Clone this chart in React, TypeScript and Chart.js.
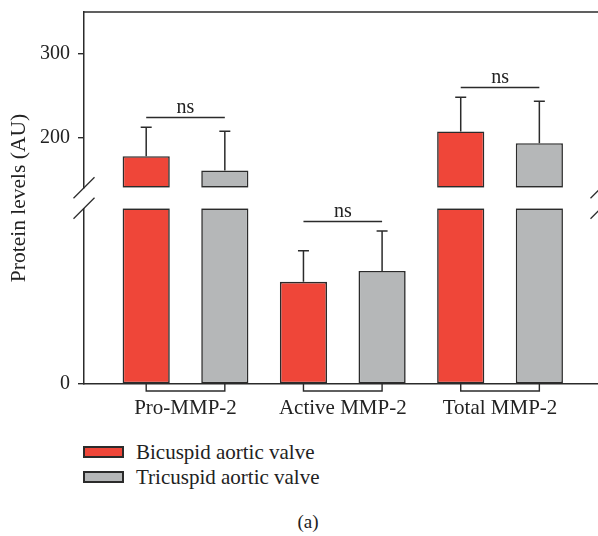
import React, { useEffect, useRef } from 'react';
import { Chart, registerables } from 'chart.js';

Chart.register(...registerables);

const categories = ['Pro-MMP-2', 'Active MMP-2', 'Total MMP-2'];
const seriesNames = ['Bicuspid aortic valve', 'Tricuspid aortic valve'];
const bicuspidMeans = [177.7, 81.4, 207.2];
const bicuspidErrorTops = [212.3, 106.1, 248.1];
const tricuspidMeans = [160.6, 90.1, 193.2];
const tricuspidErrorTops = [207.5, 122.0, 243.4];
const nsLevels = [224, 130, 260];
const nsLabels = ['ns', 'ns', 'ns'];
const lowerRange = [0, 140];
const upperRange = [140, 350];
const lowerTicks = [0];
const upperTicks = [200, 300];

const RED = 'rgb(239,70,57)';
const GRAY = 'rgb(181,183,184)';
const EDGE = '#2b2b2b';
const INK = '#222222';
const SERIF = '"Liberation Serif", "Times New Roman", serif';

const CANVAS_W = 620;
const CANVAS_H = 430;

function upperBar(v: number) {
  return v > lowerRange[1] ? [upperRange[0], v] : null;
}
function lowerBar(v: number) {
  return [lowerRange[0], Math.min(v, lowerRange[1])];
}

function zeroPadding(s: any) {
  s.paddingTop = 0;
  s.paddingBottom = 0;
  s.paddingLeft = 0;
  s.paddingRight = 0;
}

const overlayPlugin = {
  id: 'overlay',
  afterDatasetsDraw(chart: any) {
    const ctx = chart.ctx;
    const yTop = chart.scales.yTop;
    const yBottom = chart.scales.yBottom;
    const pix = (v: number) => (v > lowerRange[1] ? yTop.getPixelForValue(v) : yBottom.getPixelForValue(v));
    const centerX = (seriesIdx: number, i: number) => {
      const meta = chart.getDatasetMeta(seriesIdx + 2);
      return meta.data[i].x;
    };
    ctx.save();
    ctx.strokeStyle = EDGE;
    ctx.lineWidth = 1.5;
    const means = [bicuspidMeans, tricuspidMeans];
    const tops = [bicuspidErrorTops, tricuspidErrorTops];
    for (let s = 0; s < 2; s++) {
      for (let i = 0; i < categories.length; i++) {
        const x = centerX(s, i);
        const y0 = pix(means[s][i]);
        const y1 = pix(tops[s][i]);
        ctx.beginPath();
        ctx.moveTo(x, y0);
        ctx.lineTo(x, y1);
        ctx.moveTo(x - 5.5, y1);
        ctx.lineTo(x + 5.5, y1);
        ctx.stroke();
      }
    }
    ctx.lineWidth = 1.4;
    ctx.fillStyle = INK;
    ctx.font = '20px ' + SERIF;
    ctx.textAlign = 'center';
    ctx.textBaseline = 'alphabetic';
    for (let i = 0; i < categories.length; i++) {
      const xa = centerX(0, i);
      const xb = centerX(1, i);
      const y = Math.round(pix(nsLevels[i])) + 0.5;
      ctx.beginPath();
      ctx.moveTo(xa, y);
      ctx.lineTo(xb, y);
      ctx.stroke();
      ctx.fillText(nsLabels[i], (xa + xb) / 2, y - 5);
    }
    const base = yBottom.getPixelForValue(lowerRange[0]);
    for (let i = 0; i < categories.length; i++) {
      const xa = centerX(0, i);
      const xb = centerX(1, i);
      ctx.beginPath();
      ctx.moveTo(xa, base);
      ctx.lineTo(xa, base + 7);
      ctx.lineTo(xb, base + 7);
      ctx.lineTo(xb, base);
      ctx.stroke();
    }
    ctx.restore();
  },
  afterDraw(chart: any) {
    const ctx = chart.ctx;
    const area = chart.chartArea;
    const yGap = chart.scales.yGap;
    ctx.save();
    ctx.strokeStyle = EDGE;
    ctx.lineWidth = 1.5;
    ctx.beginPath();
    ctx.moveTo(area.left, area.top);
    ctx.lineTo(area.right + 20, area.top);
    ctx.stroke();
    ctx.lineWidth = 1.3;
    for (const x of [area.left, area.right]) {
      for (const y of [yGap.top, yGap.bottom]) {
        ctx.beginPath();
        ctx.moveTo(x - 10.5, y + 10.5);
        ctx.lineTo(x + 10.5, y - 10.5);
        ctx.stroke();
      }
    }
    ctx.fillStyle = INK;
    ctx.font = '21.5px ' + SERIF;
    ctx.textAlign = 'center';
    ctx.textBaseline = 'middle';
    ctx.translate(19, (area.top + area.bottom) / 2);
    ctx.rotate(-Math.PI / 2);
    ctx.fillText('Protein levels (AU)', 0, 0);
    ctx.restore();
  },
};

export default function App() {
  const ref = useRef<HTMLCanvasElement | null>(null);

  useEffect(() => {
    document.body.style.margin = '0';
    const canvas = ref.current;
    if (!canvas) return;
    const yCommon = (min: number, max: number, weight: number, ticks: number[]) => ({
      type: 'linear',
      position: 'left',
      stack: 'ybroken',
      stackWeight: weight,
      stacked: false,
      min,
      max,
      afterBuildTicks: (s: any) => {
        s.ticks = ticks.map((v) => ({ value: v }));
      },
      afterFit: (s: any) => {
        s.width = 84;
        zeroPadding(s);
      },
      grid: { display: true, drawOnChartArea: false, drawTicks: true, tickLength: 6, color: EDGE, lineWidth: 1.4 },
      border: { display: true, color: EDGE, width: 1.5 },
      ticks: { color: INK, font: { family: SERIF, size: 20 }, padding: 8 },
    });
    const chart = new Chart(canvas, {
      type: 'bar',
      data: {
        datasets: [
          {
            label: seriesNames[0],
            data: bicuspidMeans.map((v, i) => ({ x: i, y: upperBar(v) })),
            backgroundColor: RED,
            yAxisID: 'yTop',
            stack: 'bic',
          },
          {
            label: seriesNames[1],
            data: tricuspidMeans.map((v, i) => ({ x: i, y: upperBar(v) })),
            backgroundColor: GRAY,
            yAxisID: 'yTop',
            stack: 'tri',
          },
          {
            label: seriesNames[0],
            data: bicuspidMeans.map((v, i) => ({ x: i, y: lowerBar(v) })),
            backgroundColor: RED,
            yAxisID: 'yBottom',
            stack: 'bic',
          },
          {
            label: seriesNames[1],
            data: tricuspidMeans.map((v, i) => ({ x: i, y: lowerBar(v) })),
            backgroundColor: GRAY,
            yAxisID: 'yBottom',
            stack: 'tri',
          },
        ] as any,
      },
      options: {
        responsive: false,
        animation: false,
        devicePixelRatio: 1,
        layout: { padding: { top: 12, left: 0, right: CANVAS_W - 601, bottom: 0 } },
        datasets: {
          bar: {
            borderColor: EDGE,
            borderWidth: 1.6,
            borderSkipped: false,
            categoryPercentage: 1,
            barPercentage: 0.6,
          },
        } as any,
        plugins: { legend: { display: false }, tooltip: { enabled: false }, title: { display: false } },
        scales: {
          x: {
            type: 'linear',
            position: 'bottom',
            offset: false,
            min: -0.6455,
            max: 2.642,
            afterBuildTicks: (s: any) => {
              s.ticks = categories.map((_, i) => ({ value: i }));
            },
            afterFit: (s: any) => {
              s.height = CANVAS_H - 384;
              zeroPadding(s);
            },
            grid: { display: false, drawTicks: false, offset: false },
            border: { display: true, color: EDGE, width: 1.5 },
            ticks: {
              color: INK,
              font: { family: SERIF, size: 21 },
              padding: 12,
              maxRotation: 0,
              autoSkip: false,
              callback: (v: any) => categories[v as number] ?? '',
            },
          },
          yBottom: yCommon(lowerRange[0], lowerRange[1], 176, lowerTicks),
          yGap: {
            type: 'linear',
            position: 'left',
            stack: 'ybroken',
            stackWeight: 20.6,
            min: 0,
            max: 1,
            afterFit: (s: any) => {
              s.width = 84;
              zeroPadding(s);
            },
            grid: { display: false, drawTicks: false },
            border: { display: false },
            ticks: { display: false },
          },
          yTop: yCommon(upperRange[0], upperRange[1], 176, upperTicks),
        } as any,
      },
      plugins: [overlayPlugin],
    });
    return () => chart.destroy();
  }, []);

  const legendRow = (color: string, label: string, boxTop: number) => (
    <div key={label}>
      <div
        style={{
          position: 'absolute',
          left: 83,
          top: boxTop,
          width: 41,
          height: 12,
          boxSizing: 'border-box',
          border: '2px solid ' + EDGE,
          background: color,
        }}
      />
      <div
        style={{
          position: 'absolute',
          left: 136,
          top: boxTop + 6 - 13,
          height: 26,
          lineHeight: '26px',
          fontFamily: SERIF,
          fontSize: 21,
          color: INK,
          whiteSpace: 'nowrap',
        }}
      >
        {label}
      </div>
    </div>
  );

  return (
    <div style={{ position: 'relative', width: 598, height: 536, overflow: 'hidden', background: '#fff' }}>
      <canvas ref={ref} width={CANVAS_W} height={CANVAS_H} style={{ display: 'block', width: CANVAS_W, height: CANVAS_H }} />
      {legendRow(RED, seriesNames[0], 446)}
      {legendRow(GRAY, seriesNames[1], 471)}
      <div
        style={{
          position: 'absolute',
          left: 268,
          width: 80,
          top: 510,
          height: 24,
          lineHeight: '24px',
          textAlign: 'center',
          fontFamily: SERIF,
          fontSize: 19,
          color: INK,
        }}
      >
        (a)
      </div>
    </div>
  );
}
